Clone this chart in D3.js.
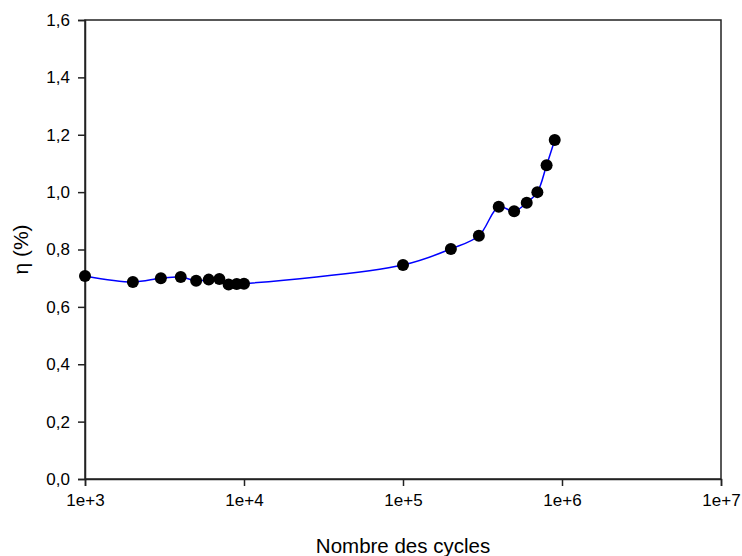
<!DOCTYPE html>
<html>
<head>
<meta charset="utf-8">
<script src="https://cdn.jsdelivr.net/npm/d3@7"></script>
<style>
  body { margin: 0; background: #fff; }
  text { font-family: Arial, "Liberation Sans", sans-serif; fill: #000; }
</style>
</head>
<body>
<div id="chart"></div>
<script>
"use strict";

// data
var cycles = [1e3, 2e3, 3e3, 4e3, 5e3, 6e3, 7e3, 8e3, 9e3, 1e4,
  1e5, 2e5, 3e5, 4e5, 5e5, 6e5, 7e5, 8e5, 9e5];
var eta = [0.708, 0.687, 0.700, 0.704, 0.691, 0.695, 0.697, 0.678, 0.680, 0.681,
  0.746, 0.802, 0.848, 0.949, 0.933, 0.963, 1.000, 1.094, 1.182];

var xTicks = [1e3, 1e4, 1e5, 1e6, 1e7];
var xTickLabels = ["1e+3", "1e+4", "1e+5", "1e+6", "1e+7"];
var yTicks = [0, 0.2, 0.4, 0.6, 0.8, 1.0, 1.2, 1.4, 1.6];

var margin = { top: 20, right: 21, bottom: 77, left: 85 };
var width = 742 - margin.left - margin.right;
var height = 556 - margin.top - margin.bottom;

var svg = d3.select("#chart").append("svg").attr("width", 742).attr("height", 556)
  .append("g").attr("transform", "translate(" + margin.left + "," + margin.top + ")");

var xScale = d3.scaleLog().domain([1e3, 1e7]).range([0, width]);
var yScale = d3.scaleLinear().domain([0, 1.6]).range([height, 0]);

var fr = d3.formatLocale({ decimal: ",", thousands: ".", grouping: [3], currency: ["", ""] });
var yFmt = fr.format(".1f");

var xAxis = d3.axisBottom(xScale).tickValues(xTicks).tickSize(7).tickPadding(8)
  .tickFormat(function (d, i) { return xTickLabels[i]; });
var yAxis = d3.axisLeft(yScale).tickValues(yTicks).tickSize(7).tickPadding(8).tickFormat(yFmt);

// frame
svg.append("rect").attr("width", width).attr("height", height)
  .attr("fill", "none").attr("stroke", "#222").attr("stroke-width", 1.5);

var gx = svg.append("g").attr("transform", "translate(0," + height + ")").call(xAxis);
var gy = svg.append("g").call(yAxis);
[gx, gy].forEach(function (g) {
  g.select(".domain").attr("stroke", "#222").attr("stroke-width", 1.5);
  g.selectAll(".tick line").attr("stroke", "#222").attr("stroke-width", 1.5);
  g.selectAll(".tick text").style("font-size", "17px").attr("fill", "#000");
});

var pts = cycles.map(function (c, i) { return [c, eta[i]]; });

var line = d3.line()
  .x(function (d) { return xScale(d[0]); })
  .y(function (d) { return yScale(d[1]); })
  .curve(d3.curveCatmullRom.alpha(0.5));

svg.append("path").datum(pts).attr("d", line)
  .attr("fill", "none").attr("stroke", "#0000ff").attr("stroke-width", 1.5);

svg.selectAll("circle.pt").data(pts).enter().append("circle").attr("class", "pt")
  .attr("cx", function (d) { return xScale(d[0]); })
  .attr("cy", function (d) { return yScale(d[1]); })
  .attr("r", 6).attr("fill", "#000");

svg.append("text").attr("text-anchor", "middle")
  .attr("transform", "translate(" + (width / 2) + "," + (height + 74) + ")")
  .style("font-size", "20.5px").text("Nombre des cycles");

svg.append("text").attr("text-anchor", "middle")
  .attr("transform", "translate(-57," + (height / 2) + ")rotate(-90)")
  .style("font-size", "21px").text("η (%)");
</script>
</body>
</html>
